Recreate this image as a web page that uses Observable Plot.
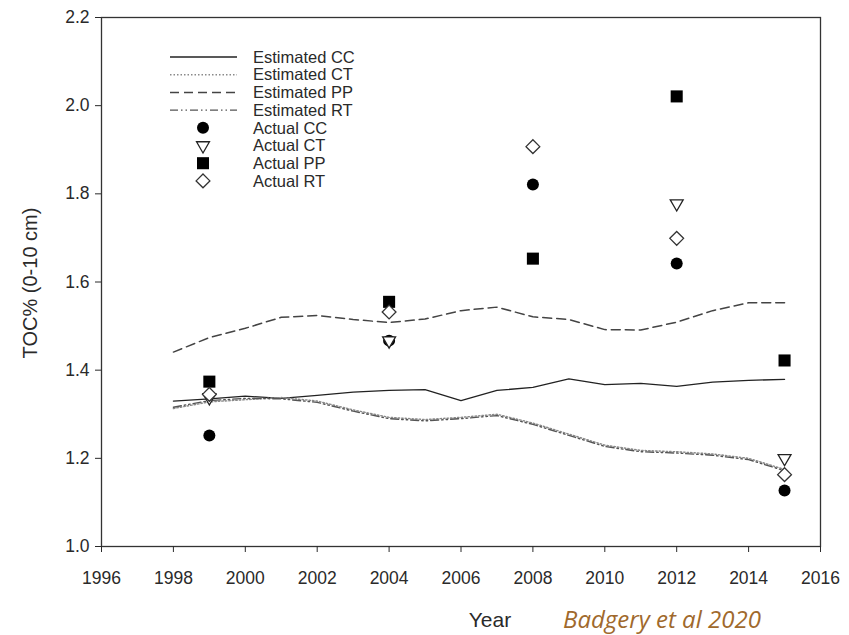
<!DOCTYPE html>
<html><head><meta charset="utf-8">
<script src="https://cdn.jsdelivr.net/npm/d3@7"></script>
<script src="https://cdn.jsdelivr.net/npm/@observablehq/plot@0.6"></script>
<style>
body{margin:0;background:#fff;}
#wrap{position:relative;width:849px;height:635px;}
#cap{position:absolute;left:563px;top:602px;font:italic 24px "Open Sans",sans-serif;color:#a0692c;white-space:nowrap;}
</style></head><body><div id="wrap"><div id="cap">Badgery et al 2020</div></div>
<script>
// ---- data ----
const estYears = [1998,1999,2000,2001,2002,2003,2004,2005,2006,2007,2008,2009,2010,2011,2012,2013,2014,2015];
const estCC = [1.330,1.335,1.341,1.336,1.343,1.350,1.354,1.356,1.331,1.354,1.361,1.380,1.367,1.370,1.363,1.373,1.377,1.379];
const estCT = [1.313,1.328,1.333,1.338,1.330,1.310,1.293,1.288,1.293,1.300,1.280,1.255,1.230,1.218,1.215,1.210,1.200,1.175];
const estPP = [1.441,1.474,1.495,1.520,1.524,1.515,1.508,1.516,1.535,1.543,1.521,1.515,1.492,1.491,1.509,1.535,1.553,1.553];
const estRT = [1.316,1.331,1.336,1.335,1.327,1.307,1.290,1.285,1.290,1.297,1.277,1.252,1.227,1.215,1.212,1.207,1.197,1.172];
const actYears = [1999,2004,2008,2012,2015];
const actCC = [1.252,1.467,1.821,1.642,1.127];
const actCT = [1.338,1.467,null,1.778,1.200];
const actPP = [1.374,1.555,1.653,2.021,1.422];
const actRT = [1.345,1.532,1.907,1.699,1.163];
const xTicks = [1996,1998,2000,2002,2004,2006,2008,2010,2012,2014,2016];
const yTicks = [1.0,1.2,1.4,1.6,1.8,2.0,2.2];
const legendLabels = ["Estimated CC","Estimated CT","Estimated PP","Estimated RT","Actual CC","Actual CT","Actual PP","Actual RT"];
const xTitle = "Year";
const yTitle = "TOC% (0-10 cm)";

// ---- styles ----
const FONT = "'Liberation Sans', Arial, sans-serif";
const lineStyles = [
  {stroke:"#222", strokeWidth:1.3, dash:null},
  {stroke:"#8a8a8a", strokeWidth:1.4, dash:"1.5,2"},
  {stroke:"#444", strokeWidth:1.5, dash:"9,5"},
  {stroke:"#555", strokeWidth:1.4, dash:"8,3,1.5,3,1.5,3"}
];
const dotStyles = [
  {symbol:"circle", fill:"#000", stroke:"none", r:6, rotate:0},
  {symbol:"triangle", fill:"#fff", stroke:"#222", r:4.8, rotate:180},
  {symbol:"square", fill:"#000", stroke:"none", r:6.8, rotate:0},
  {symbol:"diamond2", fill:"#fff", stroke:"#333", r:6.2, rotate:0}
];
const estSeries = [estCC, estCT, estPP, estRT];
const actSeries = [actCC, actCT, actPP, actRT];

const marks = [Plot.frame({stroke:"#333", strokeWidth:1.3})];
estSeries.forEach((vals, k) => {
  const st = lineStyles[k];
  marks.push(Plot.line(estYears.map((y,i)=>({year:y, v:vals[i]})), {
    x:"year", y:"v", stroke:st.stroke, strokeWidth:st.strokeWidth, strokeDasharray:st.dash
  }));
});
actSeries.forEach((vals, k) => {
  const st = dotStyles[k];
  const data = actYears.map((y,i)=>({year:y, v:vals[i]})).filter(d => d.v != null);
  marks.push(Plot.dot(data, {
    x:"year", y:"v", symbol:st.symbol, fill:st.fill, stroke:st.stroke, r:st.r, rotate:st.rotate, strokeWidth:1.3
  }));
});
marks.push(Plot.axisX({ticks:xTicks, tickFormat:"d", tickSize:6, tickPadding:19, fontSize:17.5, label:null}));
marks.push(Plot.axisY({ticks:yTicks, tickFormat:".1f", tickSize:6, tickPadding:6, fontSize:17.5, label:null}));

const chart = Plot.plot({
  width:849, height:635,
  marginLeft:101, marginRight:29, marginTop:17, marginBottom:89,
  style:{fontFamily:FONT, fontSize:"17px", color:"#2a2a2a", background:"#fff"},
  x:{domain:[1996,2016]},
  y:{domain:[1.0,2.2]},
  marks
});
document.getElementById("wrap").prepend(chart);

const svg = d3.select(chart);
// axis titles
svg.append("text").attr("x",490).attr("y",620).attr("dy","0.35em").attr("text-anchor","middle")
  .attr("font-family",FONT).attr("font-size",21).attr("fill","#2a2a2a").text(xTitle);
svg.append("text").attr("transform","translate(30,283) rotate(-90)").attr("dy","0.35em").attr("text-anchor","middle")
  .attr("font-family",FONT).attr("font-size",20).attr("fill","#2a2a2a").text(yTitle);

// ---- legend (inside plot area, top-left) ----
const lg = svg.append("g").attr("font-family",FONT).attr("font-size",16.5).attr("fill","#2a2a2a").attr("text-anchor","start");
const rowY = i => 57 + i*17.7;
lineStyles.forEach((st,i) => {
  lg.append("line").attr("x1",170).attr("x2",237).attr("y1",rowY(i)).attr("y2",rowY(i))
    .attr("stroke",st.stroke).attr("stroke-width",st.strokeWidth).attr("stroke-dasharray",st.dash);
});
dotStyles.forEach((st,k) => {
  const i = k + 4;
  const sym = {circle:d3.symbolCircle, triangle:d3.symbolTriangle, square:d3.symbolSquare, diamond2:d3.symbolDiamond2}[st.symbol];
  lg.append("path").attr("d", d3.symbol(sym, st.r*st.r*Math.PI)())
    .attr("transform",`translate(203,${rowY(i)}) rotate(${st.rotate})`)
    .attr("fill",st.fill).attr("stroke",st.stroke).attr("stroke-width",1.3);
});
legendLabels.forEach((t,i) => {
  lg.append("text").attr("x",253).attr("y",rowY(i)).attr("dy","0.35em").text(t);
});
</script>
</body></html>
